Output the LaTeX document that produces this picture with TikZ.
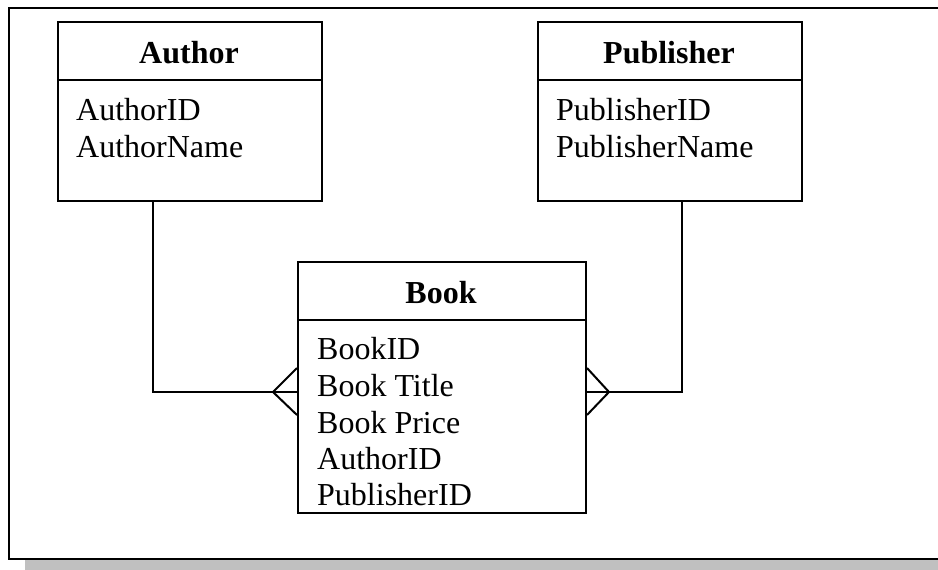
\documentclass[tikz,border=0pt]{standalone}
\usepackage{fontspec}
\setmainfont{Liberation Serif}
\definecolor{shadowgray}{RGB}{192,192,192}
\begin{document}
\begin{tikzpicture}[x=1pt,y=-1pt,
  entbox/.style={draw,line width=2pt,minimum width=#1,inner sep=0pt,anchor=north west},
  ttl/.style={font=\fontsize{32}{36}\selectfont\bfseries,anchor=base,inner sep=0pt},
  attr/.style={font=\fontsize{32}{36}\selectfont,anchor=base west,inner sep=0pt},
  conn/.style={line width=2pt}]
\useasboundingbox (0,0) rectangle (938,570);
% frame and shadow
\fill[shadowgray] (25,560) rectangle (938,570);
\draw[line width=2.7pt] (940,8) -- (9,8) -- (9,559) -- (940,559);
% Author
\node[entbox=264pt,minimum height=179pt] (author) at (57,21) {};
\draw[line width=2pt] (57,80) -- (321,80);
\node[ttl] (authorT) at (189,63) {Author};
\node[attr] (authorA1) at (76,120) {AuthorID};
\node[attr] (authorA2) at (76,157) {AuthorName};
% Publisher
\node[entbox=264pt,minimum height=179pt] (pub) at (537,21) {};
\draw[line width=2pt] (537,80) -- (801,80);
\node[ttl] (pubT) at (669,63) {Publisher};
\node[attr] (pubA1) at (556,120) {PublisherID};
\node[attr] (pubA2) at (556,157) {PublisherName};
% Book
\node[entbox=288pt,minimum height=251pt] (book) at (297,261) {};
\draw[line width=2pt] (297,320) -- (585,320);
\node[ttl] (bookT) at (441,303) {Book};
\node[attr] (bookA1) at (317,359) {BookID};
\node[attr] (bookA2) at (317,396) {Book Title};
\node[attr] (bookA3) at (317,433) {Book Price};
\node[attr] (bookA4) at (317,469) {AuthorID};
\node[attr] (bookA5) at (317,505) {PublisherID};
% connectors
\coordinate (la) at (273,392);
\coordinate (ra) at (609,392);
\draw[conn] (author.south -| 153,0) -- (153,392) -- (book.west |- la);
\draw[conn] (pub.south -| 682,0) -- (682,392) -- (book.east |- ra);
\draw[conn] (book.west |- 0,368) -- (la) -- (book.west |- 0,415);
\draw[conn] (book.east |- 0,368) -- (ra) -- (book.east |- 0,415);
\end{tikzpicture}
\end{document}
